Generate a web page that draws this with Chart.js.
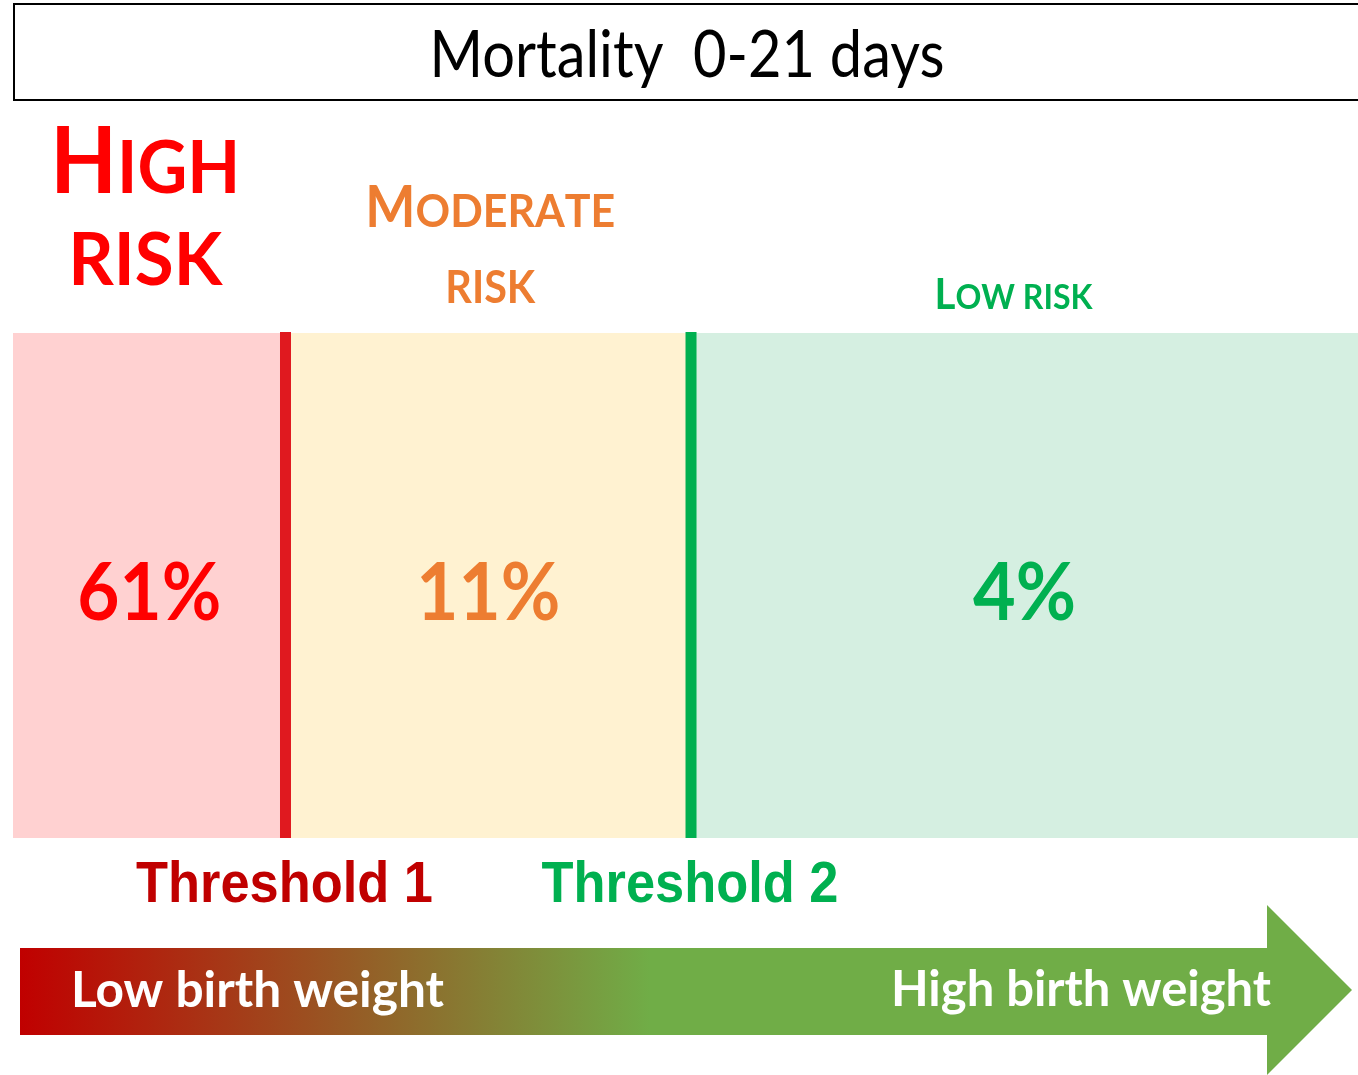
<!DOCTYPE html>
<html>
<head>
<meta charset="utf-8">
<script src="https://cdn.jsdelivr.net/npm/chart.js@4"></script>
<style>
  html, body { margin: 0; background: #fff; }
  canvas { display: block; }
</style>
</head>
<body>
<canvas id="chart-mortality" width="1358" height="1075"></canvas>
<script>
// ---- data ----
const TITLE = "Mortality  0-21 days";
const BANDS = ["High risk", "Moderate risk", "Low risk"];
const MORTALITY = [61, 11, 4]; // % mortality 0-21 days
// thresholds on a relative 0-100 birth-weight axis
const THRESHOLDS = [20.26, 50.41];
const THRESHOLD_LABELS = ["Threshold 1", "Threshold 2"];
const AXIS_LABELS = ["Low birth weight", "High birth weight"];

// ---- styles ----
const BAND_FILL = ["#FFD1D1", "#FFF2D1", "#D5EFE1"];
const BAND_TEXT = ["#FF0000", "#ED7D31", "#00B050"];
const LINE_COLOR = ["#E0191F", "#00B050"];
const THRESHOLD_TEXT = ["#C00000", "#00B050"];

const edges = [0, ...THRESHOLDS, 100];
const ranges = BANDS.map((_, i) => [edges[i], edges[i + 1]]);

const SANS = "Lato, 'Open Sans', sans-serif";

/* draw a run of text pieces, squeezed horizontally to a target width */
function fitText(ctx, parts, x, y, width, align, color) {
  let total = 0;
  const widths = parts.map(([t, f]) => {
    ctx.font = f;
    const w = ctx.measureText(t).width;
    total += w;
    return w;
  });
  const sx = width ? width / total : 1;
  ctx.save();
  ctx.translate(x, y);
  ctx.scale(sx, 1);
  ctx.fillStyle = color;
  ctx.textAlign = "left";
  ctx.textBaseline = "alphabetic";
  let cx = align === "center" ? -total / 2 : align === "right" ? -total : 0;
  parts.forEach(([t, f], i) => {
    ctx.font = f;
    ctx.fillText(t, cx, 0);
    cx += widths[i];
  });
  ctx.restore();
}

/* small caps: uppercase letters big, lowercase letters as small capitals */
function smallCaps(text, big, small) {
  const parts = [];
  for (const ch of text) {
    const isUpper = ch !== ch.toLowerCase();
    parts.push([ch.toUpperCase(), `bold ${isUpper ? big : small}px ${SANS}`]);
  }
  return parts;
}

// how each risk heading is laid out above its band
const HEADINGS = [
  { lines: ["High", "risk"], big: 92, small: 73, base: [193, 285], width: [190, 154], dx: -4 },
  { lines: ["Moderate", "risk"], big: 57, small: 46, base: [227, 303], width: [250, 90], dx: 2 },
  { lines: ["Low risk"], big: 42, small: 33.5, base: [309], width: [158], dx: -11 }
];

const decorations = {
  id: "decorations",
  afterDraw(chart) {
    const ctx = chart.ctx;
    const x = chart.scales.x;
    const area = chart.chartArea;

    // title box
    ctx.save();
    ctx.strokeStyle = "#000";
    ctx.lineWidth = 2;
    ctx.strokeRect(14, 4, 1360, 96);
    ctx.restore();
    fitText(ctx, [[TITLE, `66px ${SANS}`]], 687, 77, 515, "center", "#000");

    // threshold lines
    THRESHOLDS.forEach((t, i) => {
      const px = x.getPixelForValue(t);
      ctx.fillStyle = LINE_COLOR[i];
      ctx.fillRect(px - 5.5, area.top - 1, 11, area.bottom - area.top + 1);
      fitText(ctx, [[THRESHOLD_LABELS[i], `bold 57px 'Liberation Sans', Arial, sans-serif`]],
        px - 1, 902, 297, "center", THRESHOLD_TEXT[i]);
    });

    // headings and mortality values
    BANDS.forEach((b, i) => {
      const cx = x.getPixelForValue((ranges[i][0] + ranges[i][1]) / 2);
      const h = HEADINGS[i];
      h.lines.forEach((line, j) => {
        fitText(ctx, smallCaps(line, h.big, h.small), cx + h.dx, h.base[j], h.width[j], "center", BAND_TEXT[i]);
      });
      const label = MORTALITY[i] + "%";
      fitText(ctx, [[label, `bold 80px ${SANS}`]], cx, 620, label.length === 2 ? 103 : 144, "center", BAND_TEXT[i]);
    });

    // birth weight arrow
    ctx.save();
    const grad = ctx.createLinearGradient(20, 0, 650, 0);
    grad.addColorStop(0, "#C00000");
    grad.addColorStop(1, "#70AD47");
    ctx.fillStyle = grad;
    ctx.beginPath();
    ctx.moveTo(20, 948);
    ctx.lineTo(1267, 948);
    ctx.lineTo(1267, 905);
    ctx.lineTo(1352, 990);
    ctx.lineTo(1267, 1075);
    ctx.lineTo(1267, 1035);
    ctx.lineTo(20, 1035);
    ctx.closePath();
    ctx.fill();
    ctx.restore();
    fitText(ctx, [[AXIS_LABELS[0], `bold 49px ${SANS}`]], 71, 1007, 373, "left", "#fff");
    fitText(ctx, [[AXIS_LABELS[1], `bold 49px ${SANS}`]], 1271, 1006, 380, "right", "#fff");
  }
};

new Chart(document.getElementById("chart-mortality").getContext("2d"), {
  type: "bar",
  data: {
    labels: [TITLE],
    datasets: BANDS.map((b, i) => ({
      label: b,
      data: [ranges[i]],
      backgroundColor: BAND_FILL[i],
      borderWidth: 0,
      barPercentage: 1,
      categoryPercentage: 1,
      grouped: false
    }))
  },
  options: {
    indexAxis: "y",
    responsive: false,
    animation: false,
    layout: { padding: { left: 13, right: 0, top: 333, bottom: 237 } },
    plugins: { legend: { display: false }, tooltip: { enabled: false } },
    scales: {
      x: { type: "linear", min: 0, max: 100, display: false },
      y: { display: false }
    }
  },
  plugins: [decorations]
});
</script>
</body>
</html>
